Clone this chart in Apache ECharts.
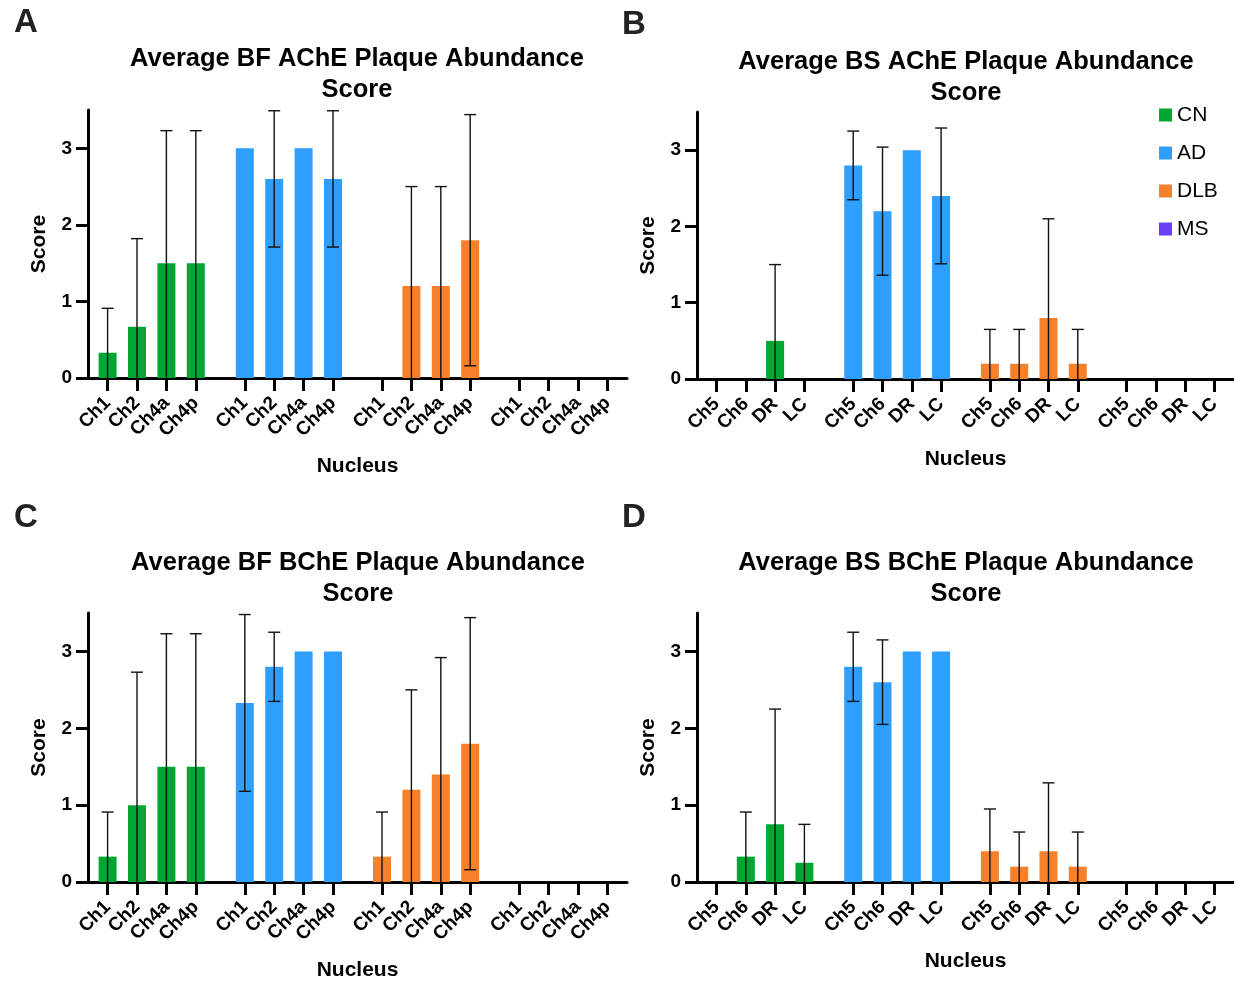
<!DOCTYPE html>
<html>
<head>
<meta charset="utf-8">
<script src="https://cdn.jsdelivr.net/npm/echarts@6/dist/echarts.min.js"></script>
<style>
html,body{margin:0;padding:0;background:#fff;}
#chart{width:1234px;height:982px;}
</style>
</head>
<body>
<div id="chart"></div>
<script>
// ---- data ----
const groups = ['CN', 'AD', 'DLB', 'MS'];
const bfNuclei = ['Ch1', 'Ch2', 'Ch4a', 'Ch4p'];
const bsNuclei = ['Ch5', 'Ch6', 'DR', 'LC'];
const yTicks = [0, 1, 2, 3];

// Panel A: Average BF AChE Plaque Abundance Score (rows: CN, AD, DLB, MS)
const aMean = [[0.33, 0.67, 1.5, 1.5], [3.0, 2.6, 3.0, 2.6], [0, 1.2, 1.2, 1.8], [null, null, null, null]];
const aSD   = [[0.58, 1.15, 1.73, 1.73], [0, 0.89, 0, 0.89], [0, 1.3, 1.3, 1.64], [null, null, null, null]];
// Panel B: Average BS AChE Plaque Abundance Score
const bMean = [[0, 0, 0.5, 0], [2.8, 2.2, 3.0, 2.4], [0.2, 0.2, 0.8, 0.2], [null, null, null, null]];
const bSD   = [[0, 0, 1.0, 0], [0.45, 0.84, 0, 0.89], [0.45, 0.45, 1.3, 0.45], [null, null, null, null]];
// Panel C: Average BF BChE Plaque Abundance Score
const cMean = [[0.33, 1.0, 1.5, 1.5], [2.33, 2.8, 3.0, 3.0], [0.33, 1.2, 1.4, 1.8], [null, null, null, null]];
const cSD   = [[0.58, 1.73, 1.73, 1.73], [1.15, 0.45, 0, 0], [0.58, 1.3, 1.52, 1.64], [null, null, null, null]];
// Panel D: Average BS BChE Plaque Abundance Score
const dMean = [[0, 0.33, 0.75, 0.25], [2.8, 2.6, 3.0, 3.0], [0.4, 0.2, 0.4, 0.2], [null, null, null, null]];
const dSD   = [[0, 0.58, 1.5, 0.5], [0.45, 0.55, 0, 0], [0.55, 0.45, 0.89, 0.45], [null, null, null, null]];

// ---- style ----
const colors = { CN: '#00A632', AD: '#2E9EFF', DLB: '#F7802A', MS: '#6A3DF7' };
const FONT = '"Liberation Sans", Arial, Helvetica, sans-serif';

const panels = [
  { letter: 'A', title: 'Average BF AChE Plaque Abundance\nScore', nuclei: bfNuclei, mean: aMean, sd: aSD,
    grid: { left: 88, top: 110, width: 539, height: 268 }, titleX: 352, titleY: 38, letterX: 9, letterY: 1, xNameGap: 78 },
  { letter: 'B', title: 'Average BS AChE Plaque Abundance\nScore', nuclei: bsNuclei, mean: bMean, sd: bSD,
    grid: { left: 697, top: 112, width: 537, height: 267 }, titleX: 961, titleY: 41, letterX: 617, letterY: 3, xNameGap: 70 },
  { letter: 'C', title: 'Average BF BChE Plaque Abundance\nScore', nuclei: bfNuclei, mean: cMean, sd: cSD,
    grid: { left: 88, top: 613, width: 539, height: 269 }, titleX: 353, titleY: 542, letterX: 9, letterY: 496, xNameGap: 78 },
  { letter: 'D', title: 'Average BS BChE Plaque Abundance\nScore', nuclei: bsNuclei, mean: dMean, sd: dSD,
    grid: { left: 697, top: 613, width: 537, height: 269 }, titleX: 961, titleY: 542, letterX: 617, letterY: 496, xNameGap: 69 }
];

// category slots: 2 lead blanks, 3 slots between nuclei, 5 between groups
function slotIndex(g, i) { return 2 + 14 * g + 3 * i; }
const NSLOTS = 56;

const option = {
  animation: false,
  backgroundColor: '#fff',
  textStyle: { fontFamily: FONT },
  title: [], grid: [], xAxis: [], yAxis: [], series: [],
  legend: {
    data: groups, orient: 'vertical', left: 1154, top: 99,
    icon: 'rect', itemWidth: 13, itemHeight: 13, itemGap: 16,
    textStyle: { fontFamily: FONT, fontSize: 21, color: '#000', lineHeight: 22 }
  }
};

panels.forEach((p, k) => {
  const cats = new Array(NSLOTS).fill('');
  groups.forEach((g, gi) => p.nuclei.forEach((n, i) => { cats[slotIndex(gi, i)] = n; }));

  option.title.push({
    text: p.title, left: p.titleX, top: p.titleY, textAlign: 'center',
    textStyle: { fontFamily: FONT, fontSize: 25.5, fontWeight: 'bold', color: '#000', lineHeight: 31 }
  });
  option.title.push({
    text: p.letter, left: p.letterX, top: p.letterY,
    textStyle: { fontFamily: FONT, fontSize: 33, fontWeight: 'bold', color: '#222' }
  });
  option.grid.push(Object.assign({ containLabel: false }, p.grid));
  option.xAxis.push({
    type: 'category', gridIndex: k, data: cats, boundaryGap: false,
    name: 'Nucleus', nameLocation: 'middle', nameGap: p.xNameGap,
    nameTextStyle: { fontFamily: FONT, fontSize: 21, fontWeight: 'bold', color: '#000' },
    axisLine: { lineStyle: { color: '#000', width: 3 } },
    axisTick: { show: true, inside: false, length: 13, lineStyle: { color: '#000', width: 3 },
      interval: (idx, v) => v !== '' },
    axisLabel: { interval: (idx, v) => v !== '', rotate: 45, margin: 22,
      fontFamily: FONT, fontSize: 19, fontWeight: 'bold', color: '#000' },
    splitLine: { show: false }
  });
  option.yAxis.push({
    type: 'value', gridIndex: k, min: 0, max: 3.5, interval: 1,
    name: 'Score', nameLocation: 'middle', nameGap: 38, nameRotate: 90,
    nameTextStyle: { fontFamily: FONT, fontSize: 21, fontWeight: 'bold', color: '#000' },
    axisLine: { show: true, lineStyle: { color: '#000', width: 3 } },
    axisTick: { show: true, inside: false, length: 12, lineStyle: { color: '#000', width: 3 } },
    axisLabel: { margin: 16, fontFamily: FONT, fontSize: 19, fontWeight: 'bold', color: '#000',
      formatter: v => (yTicks.indexOf(v) >= 0 ? String(v) : ''), showMaxLabel: false },
    splitLine: { show: false }
  });

  const errData = [];
  groups.forEach((g, gi) => {
    const data = new Array(NSLOTS).fill(null);
    p.nuclei.forEach((n, i) => {
      const m = p.mean[gi][i];
      data[slotIndex(gi, i)] = m;
      if (m !== null && p.sd[gi][i]) errData.push([slotIndex(gi, i), m, p.sd[gi][i]]);
    });
    option.series.push({
      type: 'bar', name: g, xAxisIndex: k, yAxisIndex: k, data: data,
      barWidth: 18, barGap: '-100%',
      itemStyle: { color: colors[g] }, z: 2
    });
  });

  option.series.push({
    type: 'custom', name: 'err' + k, xAxisIndex: k, yAxisIndex: k, z: 5,
    data: errData, encode: { x: 0, y: 1 },
    renderItem: (params, api) => {
      const x = api.value(0), m = api.value(1), s = api.value(2);
      const hi = m + s, lo = m - s;
      const pTop = api.coord([x, hi]);
      const pBot = api.coord([x, Math.max(0, lo)]);
      const cap = 6;
      const st = { stroke: '#111', lineWidth: 1.4 };
      const children = [
        { type: 'line', shape: { x1: pTop[0], y1: pTop[1], x2: pBot[0], y2: pBot[1] }, style: st },
        { type: 'line', shape: { x1: pTop[0] - cap, y1: pTop[1], x2: pTop[0] + cap, y2: pTop[1] }, style: st }
      ];
      if (lo > 0) {
        children.push({ type: 'line', shape: { x1: pBot[0] - cap, y1: pBot[1], x2: pBot[0] + cap, y2: pBot[1] }, style: st });
      }
      return { type: 'group', children: children };
    }
  });
});

const chart = echarts.init(document.getElementById('chart'), null, { renderer: 'canvas' });
chart.setOption(option);
</script>
</body>
</html>
